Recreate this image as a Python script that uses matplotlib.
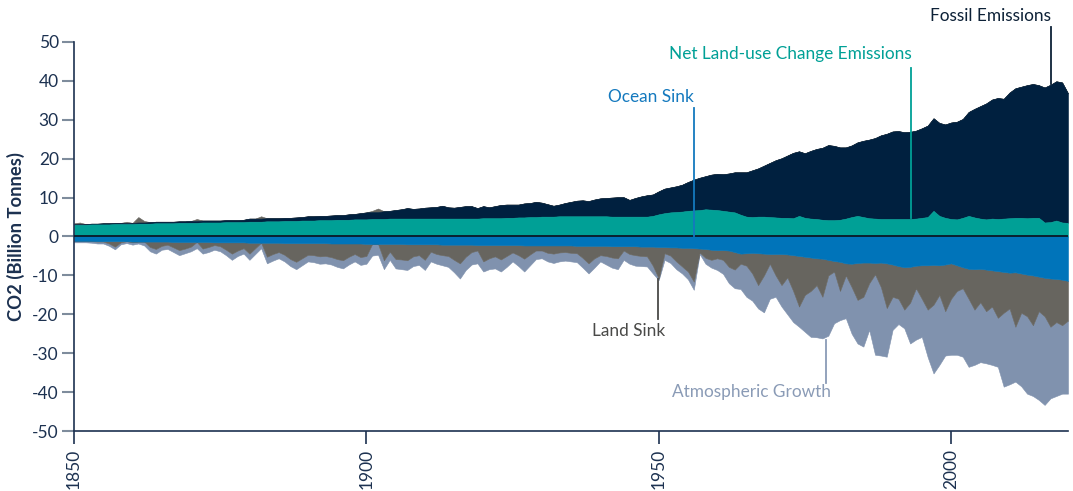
import numpy as np
import matplotlib
matplotlib.use("Agg")
import matplotlib.pyplot as plt

plt.rcParams['font.family'] = ['Lato', 'DejaVu Sans']

years = np.arange(1850, 2021)

# Billion tonnes CO2 per year
fossil = [
    0.2, 0.2, 0.2, 0.2, 0.2, 0.3, 0.3, 0.3, 0.3, 0.3,
    0.3, 0.3, 0.3, 0.4, 0.4, 0.4, 0.4, 0.4, 0.4, 0.4,
    0.5, 0.5, 0.5, 0.5, 0.5, 0.5, 0.5, 0.5, 0.5, 0.6,
    0.8, 0.8, 0.8, 0.8, 0.8, 0.8, 0.8, 0.8, 0.9, 0.9,
    1.1, 1.1, 1.1, 1.1, 1.2, 1.2, 1.2, 1.4, 1.4, 1.6,
    1.8, 1.8, 1.8, 2.0, 2.0, 2.2, 2.4, 2.7, 2.5, 2.6,
    2.8, 2.9, 3.0, 3.3, 2.9, 2.8, 3.0, 3.2, 3.2, 2.7,
    3.1, 2.8, 3.1, 3.4, 3.4, 3.4, 3.3, 3.6, 3.6, 3.9,
    3.6, 3.2, 2.8, 3.0, 3.4, 3.7, 4.0, 4.1, 3.9, 4.3,
    4.6, 4.7, 4.9, 5.0, 5.0, 4.3, 4.8, 5.2, 5.5, 5.5,
    5.9, 6.3, 6.4, 6.6, 6.9, 7.4, 7.9, 8.3, 8.5, 9.0,
    9.3, 9.4, 9.8, 10.3, 10.9, 11.4, 12.0, 12.4, 13.1, 13.9,
    14.7, 15.3, 16.0, 16.8, 16.6, 16.6, 17.4, 18.0, 18.5, 19.3,
    19.1, 18.6, 18.3, 18.4, 18.9, 19.6, 20.2, 20.7, 21.5, 21.9,
    22.5, 22.6, 22.3, 22.4, 22.6, 23.0, 23.5, 23.8, 23.9, 24.0,
    24.8, 25.1, 25.4, 26.7, 27.9, 28.9, 29.8, 30.6, 31.1, 30.8,
    32.3, 33.3, 33.7, 34.2, 34.4, 34.1, 34.7, 35.3, 35.8, 36.0,
    33.3,
]

land_use = [
    3.0, 3.0, 3.0, 3.1, 3.1, 3.1, 3.1, 3.2, 3.2, 3.2,
    3.2, 3.3, 3.3, 3.3, 3.4, 3.4, 3.4, 3.4, 3.5, 3.5,
    3.5, 3.5, 3.6, 3.6, 3.6, 3.6, 3.7, 3.7, 3.7, 3.7,
    3.8, 3.8, 3.8, 3.9, 3.9, 3.9, 4.0, 4.0, 4.0, 4.1,
    4.1, 4.1, 4.2, 4.2, 4.2, 4.3, 4.3, 4.3, 4.4, 4.4,
    4.4, 4.5, 4.5, 4.5, 4.6, 4.6, 4.6, 4.6, 4.6, 4.6,
    4.6, 4.6, 4.6, 4.6, 4.6, 4.6, 4.6, 4.6, 4.6, 4.6,
    4.7, 4.7, 4.7, 4.7, 4.8, 4.8, 4.9, 4.9, 5.0, 5.0,
    5.1, 5.1, 5.1, 5.2, 5.2, 5.2, 5.2, 5.2, 5.2, 5.2,
    5.2, 5.2, 5.1, 5.1, 5.1, 5.1, 5.1, 5.1, 5.1, 5.3,
    5.7, 6.0, 6.2, 6.3, 6.4, 6.6, 6.7, 6.8, 7.0, 6.9,
    6.8, 6.6, 6.4, 6.2, 5.6, 5.1, 5.0, 5.1, 5.1, 5.0,
    4.9, 4.8, 4.8, 4.7, 5.3, 4.8, 4.6, 4.5, 4.3, 4.2,
    4.2, 4.3, 4.6, 5.0, 5.3, 5.0, 4.7, 4.6, 4.5, 4.5,
    4.5, 4.5, 4.5, 4.5, 4.6, 4.8, 5.0, 6.6, 5.3, 4.8,
    4.5, 4.4, 4.8, 5.3, 4.9, 4.6, 4.4, 4.6, 4.5, 4.6,
    4.7, 4.8, 4.8, 4.7, 4.8, 4.8, 3.6, 3.7, 4.1, 3.6,
    3.5,
]

ocean_sink = [
    -1.1, -1.1, -1.1, -1.1, -1.2, -1.2, -1.2, -1.2, -1.2, -1.2,
    -1.3, -1.3, -1.3, -1.3, -1.3, -1.3, -1.3, -1.4, -1.4, -1.4,
    -1.4, -1.4, -1.4, -1.4, -1.5, -1.5, -1.5, -1.5, -1.5, -1.5,
    -1.6, -1.6, -1.6, -1.6, -1.6, -1.6, -1.7, -1.7, -1.7, -1.7,
    -1.7, -1.7, -1.7, -1.7, -1.8, -1.8, -1.8, -1.8, -1.8, -1.8,
    -1.9, -1.9, -1.9, -1.9, -1.9, -1.9, -1.9, -2.0, -2.0, -2.0,
    -2.0, -2.0, -2.0, -2.1, -2.1, -2.1, -2.1, -2.1, -2.1, -2.2,
    -2.2, -2.2, -2.2, -2.2, -2.2, -2.2, -2.2, -2.3, -2.3, -2.3,
    -2.3, -2.3, -2.3, -2.3, -2.3, -2.3, -2.4, -2.4, -2.4, -2.4,
    -2.4, -2.4, -2.5, -2.5, -2.5, -2.5, -2.5, -2.6, -2.6, -2.6,
    -2.7, -2.7, -2.8, -2.8, -2.9, -2.9, -3.0, -3.1, -3.2, -3.4,
    -3.5, -3.5, -3.6, -4.0, -4.4, -4.3, -4.2, -4.3, -4.4, -4.5,
    -4.5, -4.5, -4.6, -4.8, -5.0, -5.2, -5.4, -5.6, -5.7, -6.0,
    -6.3, -6.5, -6.9, -7.0, -6.8, -6.7, -6.7, -6.8, -6.7, -6.9,
    -7.2, -7.6, -7.9, -7.8, -7.5, -7.4, -7.4, -7.3, -7.4, -7.2,
    -6.9, -7.4, -7.9, -8.3, -8.4, -8.3, -8.5, -8.7, -8.9, -9.1,
    -9.3, -9.2, -9.5, -9.8, -10.0, -10.3, -10.6, -10.8, -10.9, -11.1,
    -11.4,
]

land_sink = [
    0.2, 0.4, 0.0, -0.1, -0.1, -0.1, -0.6, -1.4, -0.3, 0.3,
    -0.2, 1.4, 0.4, -1.4, -1.9, -1.1, -0.8, -1.4, -2.1, -1.7,
    -1.2, 0.5, -1.7, -1.3, -0.7, -1.0, -1.9, -2.9, -2.1, -1.5,
    -2.8, -1.4, 0.6, -3.6, -2.9, -2.4, -3.0, -4.1, -4.8, -3.9,
    -3.0, -3.1, -3.4, -3.3, -3.5, -4.0, -4.3, -3.4, -2.7, -3.5,
    -3.1, 0.3, 0.9, -4.2, -2.0, -3.9, -4.0, -4.1, -3.1, -2.8,
    -4.0, -1.9, -2.5, -2.7, -2.9, -3.9, -4.8, -3.1, -1.9, -1.4,
    -4.2, -3.4, -2.9, -3.7, -2.8, -1.9, -2.6, -3.4, -2.3, -1.3,
    -1.3, -1.9, -2.1, -1.8, -1.7, -1.9, -1.9, -3.1, -4.5, -3.2,
    -2.4, -2.6, -2.9, -3.1, -1.1, -2.0, -2.3, -2.4, -2.5, -4.9,
    -8.1, -1.6, -2.1, -3.6, -4.8, -6.1, -8.6, -1.0, -2.3, -2.6,
    -2.1, -2.5, -4.2, -4.5, -2.6, -3.2, -5.3, -8.2, -5.6, -2.5,
    -5.5, -8.0, -5.9, -9.2, -13.0, -9.8, -8.6, -6.9, -9.8, -4.0,
    -2.7, -7.5, -3.1, -6.0, -9.5, -8.8, -5.3, -2.9, -6.3, -11.5,
    -8.3, -8.4, -10.9, -9.2, -5.8, -8.6, -11.4, -10.2, -7.6, -12.0,
    -9.1, -6.6, -5.4, -7.7, -10.4, -8.6, -10.7, -9.3, -12.0, -10.5,
    -9.2, -14.0, -10.1, -10.7, -12.8, -8.9, -9.9, -12.4, -11.1, -11.7,
    -10.2,
]

atm_growth = [
    -0.4, -0.4, -0.4, -0.4, -0.5, -0.5, -0.6, -0.7, -0.5, -0.5,
    -0.6, -0.5, -1.0, -1.1, -1.2, -1.0, -1.1, -1.2, -1.3, -1.2,
    -1.2, -1.6, -1.3, -1.3, -1.2, -1.3, -1.4, -1.6, -1.4, -1.4,
    -1.6, -1.5, -1.4, -1.7, -1.7, -1.6, -1.7, -1.8, -1.9, -1.8,
    -1.7, -1.8, -1.9, -1.9, -1.9, -2.0, -2.1, -2.0, -1.9, -2.0,
    -2.0, -3.0, -2.8, -2.3, -2.1, -2.4, -2.5, -2.5, -2.5, -2.5,
    -2.6, -2.5, -2.5, -2.6, -2.8, -3.2, -3.9, -3.4, -3.2, -3.3,
    -2.6, -2.8, -3.1, -3.1, -2.8, -2.3, -2.8, -3.3, -2.8, -2.2,
    -2.0, -2.2, -2.4, -2.3, -2.2, -2.2, -2.3, -2.5, -2.6, -2.4,
    -1.6, -2.2, -2.6, -2.8, -2.4, -2.5, -2.7, -2.6, -2.6, -2.0,
    -0.4, -1.7, -1.9, -2.0, -1.8, -2.0, -2.1, -0.4, -1.5, -2.0,
    -3.0, -3.6, -4.2, -4.8, -6.5, -8.0, -7.0, -6.0, -9.5, -9.0,
    -5.5, -5.5, -9.5, -8.0, -5.2, -9.5, -11.8, -13.4, -10.7, -15.5,
    -13.3, -7.5, -11.0, -12.0, -11.2, -12.8, -12.0, -20.7, -17.6, -12.5,
    -8.5, -6.5, -4.8, -10.5, -13.2, -9.8, -12.2, -17.7, -18.0, -11.4,
    -14.4, -16.4, -17.6, -17.5, -14.2, -15.4, -13.4, -15.0, -12.6, -19.0,
    -19.5, -14.1, -18.9, -19.9, -18.2, -22.8, -22.8, -18.4, -19.0, -17.6,
    -18.8,
]

y_ticks = [50, 40, 30, 20, 10, 0, -10, -20, -30, -40, -50]
x_ticks = [1850, 1900, 1950, 2000]

c_fossil = '#00203F'
c_luc = '#00A096'
c_ocean = '#0074BA'
c_land = '#67655F'
c_atm = '#8092AE'
c_axis = '#1C3150'

fig = plt.figure(figsize=(10.73, 4.91), dpi=100)
ax = fig.add_axes([74 / 1073, 1 - 431 / 491, (1068 - 74) / 1073, (431 - 42) / 491])

lu = np.array(land_use)
fo = np.array(fossil)
oc = np.array(ocean_sink)
ls = np.array(land_sink)
at = np.array(atm_growth)

top_lu = lu
top_fo = lu + fo
top_bump = top_fo + np.clip(ls, 0, None)
bot_oc = oc
bot_ls = oc + np.clip(ls, None, 0)
bot_at = bot_ls + at

kw = dict(linewidth=0.4)
ax.fill_between(years, top_fo, top_bump, color=c_land, **kw)
ax.fill_between(years, top_lu, top_fo, color=c_fossil, **kw)
ax.fill_between(years, 0, top_lu, color=c_luc, **kw)
ax.fill_between(years, bot_ls, bot_at, color=c_atm, **kw)
ax.fill_between(years, bot_oc, bot_ls, color=c_land, **kw)
ax.fill_between(years, 0, bot_oc, color=c_ocean, **kw)
ax.axhline(0, color='#0A1628', linewidth=1.3, zorder=5)

ax.set_xlim(1850, 2020)
ax.set_ylim(-50, 50)
ax.set_yticks(y_ticks)
ax.set_yticklabels([str(v) for v in y_ticks])
ax.set_xticks(x_ticks)
ax.set_xticklabels([str(v) for v in x_ticks], rotation=90)

for s in ['top', 'right']:
    ax.spines[s].set_visible(False)
for s in ['left', 'bottom']:
    ax.spines[s].set_color(c_axis)
    ax.spines[s].set_linewidth(1.2)
ax.tick_params(axis='y', direction='out', length=9, width=1.5, color='#7E8C9C',
               labelsize=12.5, labelcolor=c_axis, pad=2)
ax.tick_params(axis='x', direction='out', length=9, width=1.2, color=c_axis,
               labelsize=12.5, labelcolor=c_axis, pad=4)
ax.set_ylabel('CO2 (Billion Tonnes)', fontsize=13.2, fontweight='bold', color=c_axis, labelpad=5)

def label(text, tx, ty, lx, y0, y1, color, ha='center'):
    ax.annotate(text, xy=(tx, ty), ha=ha, va='center', fontsize=12.4, color=color,
                annotation_clip=False)
    ax.plot([lx, lx], [y0, y1], color=color, linewidth=1.3, clip_on=False, zorder=6)

label('Fossil Emissions', 2006.8, 56.8, 2017.1, 53.9, 39.3, '#0D2137')
label('Net Land-use Change Emissions', 1972.6, 46.8, 1993.2, 43.3, 4.8, '#00A096')
label('Ocean Sink', 1948.6, 35.9, 1956.0, 33.0, 0.0, '#1479BE')
label('Land Sink', 1944.9, -24.4, 1949.8, -11.0, -21.3, '#4A4A48')
label('Atmospheric Growth', 1965.9, -40.0, 1978.6, -26.6, -37.6, '#8A9BB6')

fig.savefig('out.png', dpi=100)
